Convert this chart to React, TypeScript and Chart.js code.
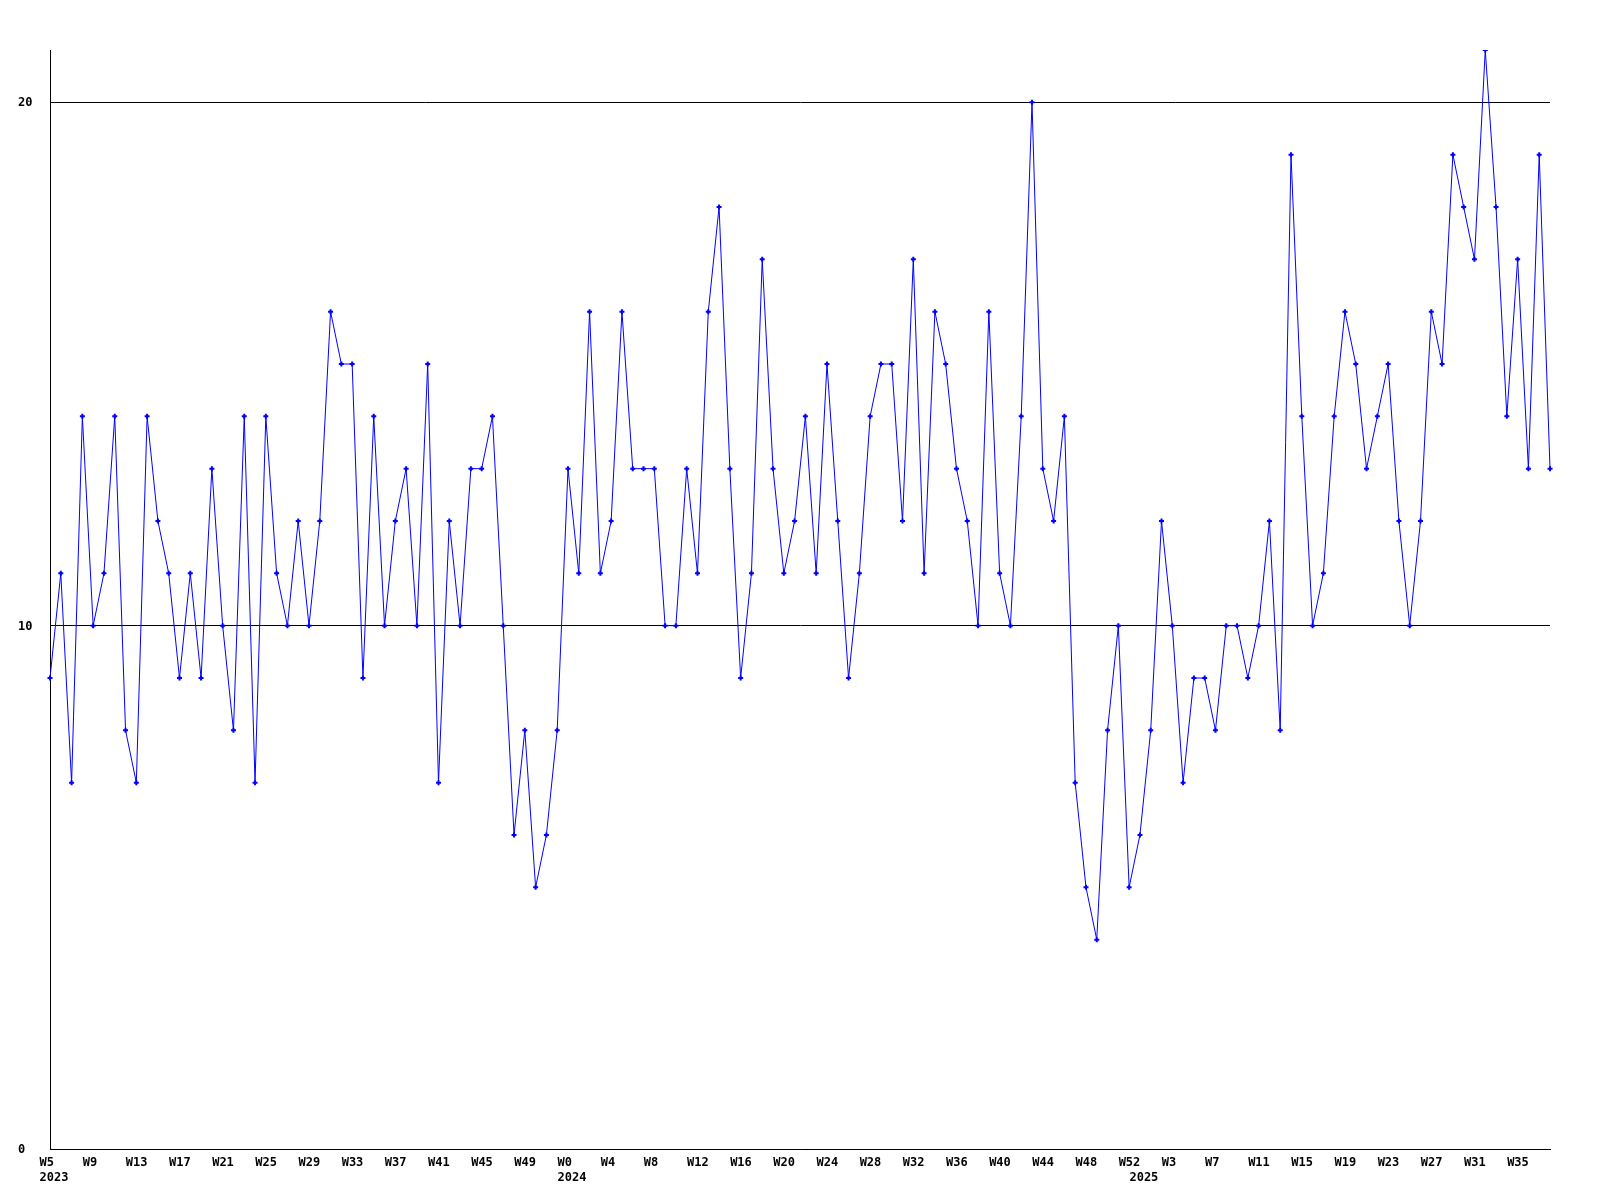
import React, { useEffect, useRef } from "react";
import { Chart, registerables } from "chart.js";

Chart.register(...registerables);

// Year segments of the weekly series (week numbers as labelled on the axis)
const years = [2023, 2024, 2025];
const firstWeeks = [5, 0, 0];
const lastWeeks = [52, 52, 38];

// Weekly values, 2023 W5 .. 2025 W38
const values = [
  9, 11, 7, 14, 10, 11, 14, 8, 7, 14, 12, 11, 9, 11, 9, 13, 10, 8, 14, 7, 14, 11, 10, 12,
  10, 12, 16, 15, 15, 9, 14, 10, 12, 13, 10, 15, 7, 12, 10, 13, 13, 14, 10, 6, 8, 5, 6,
  8, 13, 11, 16, 11, 12, 16, 13, 13, 13, 10, 10, 13, 11, 16, 18, 13, 9, 11, 17, 13, 11, 12,
  14, 11, 15, 12, 9, 11, 14, 15, 15, 12, 17, 11, 16, 15, 13, 12, 10, 16, 11, 10, 14, 20, 13,
  12, 14, 7, 5, 4, 8, 10, 5, 6, 8, 12, 10, 7, 9, 9, 8, 10, 10, 9, 10, 12, 8, 19,
  14, 10, 11, 14, 16, 15, 13, 14, 15, 12, 10, 12, 16, 15, 19, 18, 17, 21, 18, 14, 17, 13, 19, 13,
];

const yTicks = [0, 10, 20];
const yMax = 21;
const labelEvery = 4;

type WeekLabel = { year: number; week: number; first: boolean };
const weekLabels: WeekLabel[] = [];
years.forEach((y, k) => {
  for (let w = firstWeeks[k]; w <= lastWeeks[k]; w++) {
    weekLabels.push({ year: y, week: w, first: w === firstWeeks[k] });
  }
});
const categories = weekLabels.map((l) => `${l.year}-W${l.week}`);

const FONT = "'DejaVu Sans Mono', 'Liberation Mono', monospace";

export default function App() {
  const ref = useRef<HTMLCanvasElement>(null);
  useEffect(() => {
    if (!ref.current) return;
    const chart = new Chart(ref.current, {
      type: "line",
      data: {
        labels: categories,
        datasets: [
          {
            data: values,
            borderColor: "#0000ff",
            backgroundColor: "#0000ff",
            borderWidth: 1,
            tension: 0,
            pointStyle: "cross",
            pointRadius: 2.5,
            pointBorderWidth: 2,
            pointBorderColor: "#0000ff",
            pointBackgroundColor: "#0000ff",
            pointHoverRadius: 2.5,
          },
        ],
      },
      options: {
        responsive: false,
        animation: false,
        events: [],
        layout: { padding: { top: 50, left: 18, right: 50, bottom: 0 } },
        plugins: { legend: { display: false }, tooltip: { enabled: false } },
        scales: {
          x: {
            type: "category",
            offset: false,
            grid: { display: false, drawTicks: false },
            border: { display: true, color: "#000", width: 1 },
            afterFit: (s: any) => {
              s.height = 51;
            },
            ticks: {
              autoSkip: false,
              maxRotation: 0,
              minRotation: 0,
              align: "start",
              labelOffset: -10.5,
              padding: 6,
              color: "#000",
              font: { family: FONT, size: 12, weight: "bold", lineHeight: 1.25 },
              callback: (_v: any, i: number) => {
                const l = weekLabels[i];
                if (!l) return null;
                const wk = i % labelEvery === 0 ? `W${l.week}` : "";
                if (l.first) return [wk, `${l.year}`];
                return wk ? wk : null;
              },
            },
          },
          y: {
            min: 0,
            max: yMax,
            afterFit: (s: any) => {
              s.width = 32;
            },
            afterBuildTicks: (s: any) => {
              s.ticks = yTicks.map((v) => ({ value: v }));
            },
            grid: { color: "#000", lineWidth: 1, drawTicks: false },
            border: { display: true, color: "#000", width: 1 },
            ticks: {
              crossAlign: "far",
              padding: 0,
              labelOffset: 1,
              color: "#000",
              font: { family: FONT, size: 12, weight: "bold" },
            },
          },
        },
      },
    });
    return () => chart.destroy();
  }, []);
  return (
    <div style={{ position: "absolute", left: 0, top: 0, width: 1600, height: 1200, background: "#fff" }}>
      <canvas ref={ref} width={1600} height={1200} style={{ display: "block" }} />
    </div>
  );
}
